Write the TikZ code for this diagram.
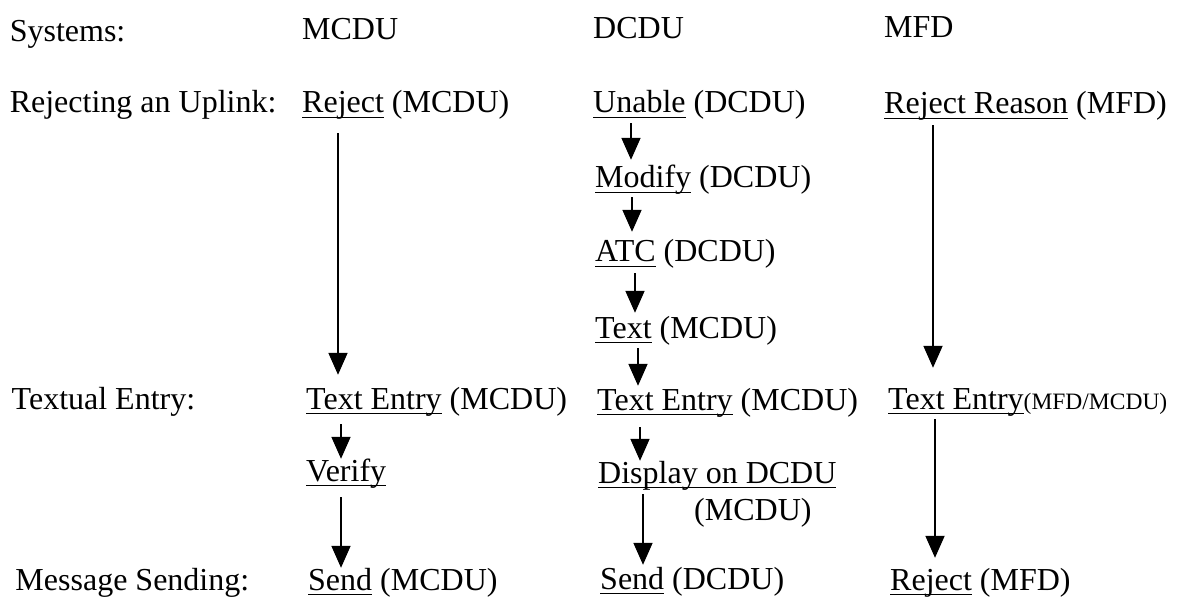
\documentclass[tikz,border=0pt]{standalone}
\usepackage{fontspec}
\setmainfont{Liberation Serif}
\usetikzlibrary{arrows.meta}
\newcommand{\undr}[1]{\setbox0=\hbox{#1}\rlap{\rule[-5pt]{\wd0}{1.4pt}}\box0\relax}

\begin{document}
\begin{tikzpicture}[x=1pt,y=-1pt]
    \tikzstyle{every node}+=[inner sep=0pt,anchor=base west,text height=22pt,text depth=7pt,font=\fontsize{32}{36}\selectfont]
    \tikzstyle{flow}=[black,line width=1.8pt,-{Triangle[width=19pt,length=22pt]}]
    \useasboundingbox (0,0) rectangle (1188,601);
    \node (hsys) at (9.6,42) {Systems:};
    \node (hmcdu) at (302,40) {MCDU};
    \node (hdcdu) at (593,39) {DCDU};
    \node (hmfd) at (884,38) {MFD};
    \node (lrej) at (9.6,113) {Rejecting an Uplink:};
    \node (ltext) at (11.5,409) {Textual Entry:};
    \node (lsend) at (15.3,590) {Message Sending:};
    \node (mrej) at (302,113) {\undr{Reject} (MCDU)};
    \node (mte) at (306,409) {\undr{Text Entry} (MCDU)};
    \node (mver) at (306,481) {\undr{Verify}};
    \node (msend) at (308,590) {\undr{Send} (MCDU)};
    \node (dunab) at (593,113) {\undr{Unable} (DCDU)};
    \node (dmod) at (595,188) {\undr{Modify} (DCDU)};
    \node (datc) at (595,262) {\undr{ATC} (DCDU)};
    \node (dtxt) at (595,338) {\undr{Text} (MCDU)};
    \node (dte) at (597,410) {\undr{Text Entry} (MCDU)};
    \node (ddisp) at (598,483) {\undr{Display on DCDU}};
    \node (ddispb) at (694,520) {(MCDU)};
    \node (dsend) at (600,589) {\undr{Send} (DCDU)};
    \node (frea) at (884,114) {\undr{Reject Reason} (MFD)};
    \node (fte) at (888,409) {\undr{Text Entry}{\fontsize{23.5}{26}\selectfont(MFD/MCDU)}};
    \node (frej) at (890,590) {\undr{Reject} (MFD)};
    \draw [flow,shorten <=13pt,shorten >=12pt] ([xshift=36pt]mrej.south west) -- ([xshift=36pt]mrej.south west |- mte.north);
    \draw [flow,shorten <=8pt] ([xshift=35pt]mte.south west) -- ([xshift=35pt]mte.south west |- mver.north);
    \draw [flow,shorten <=9pt] ([xshift=35pt]mver.south west) -- ([xshift=35pt]mver.south west |- msend.north);
    \draw [flow,shorten <=3pt,shorten >=6pt] ([xshift=38pt]dunab.south west) -- ([xshift=38pt]dunab.south west |- dmod.north);
    \draw [flow,shorten <=2pt,shorten >=8pt] ([xshift=37pt]dmod.south west) -- ([xshift=37pt]dmod.south west |- datc.north);
    \draw [flow,shorten <=4pt,shorten >=3pt] ([xshift=40pt]datc.south west) -- ([xshift=40pt]datc.south west |- dtxt.north);
    \draw [flow,shorten <=3pt,shorten >=2pt] ([xshift=43pt]dtxt.south west) -- ([xshift=43pt]dtxt.south west |- dte.north);
    \draw [flow,shorten <=10pt] ([xshift=43pt]dte.south west) -- ([xshift=43pt]dte.south west |- ddisp.north);
    \draw [flow,shorten <=4pt,shorten >=2pt] ([xshift=45pt]ddisp.south west) -- ([xshift=45pt]ddisp.south west |- dsend.north);
    \draw [flow,shorten <=4pt,shorten >=19pt] ([xshift=49pt]frea.south west) -- ([xshift=49pt]frea.south west |- fte.north);
    \draw [flow,shorten <=3pt,shorten >=10pt] ([xshift=47pt]fte.south west) -- ([xshift=47pt]fte.south west |- frej.north);
\end{tikzpicture}
\end{document}
